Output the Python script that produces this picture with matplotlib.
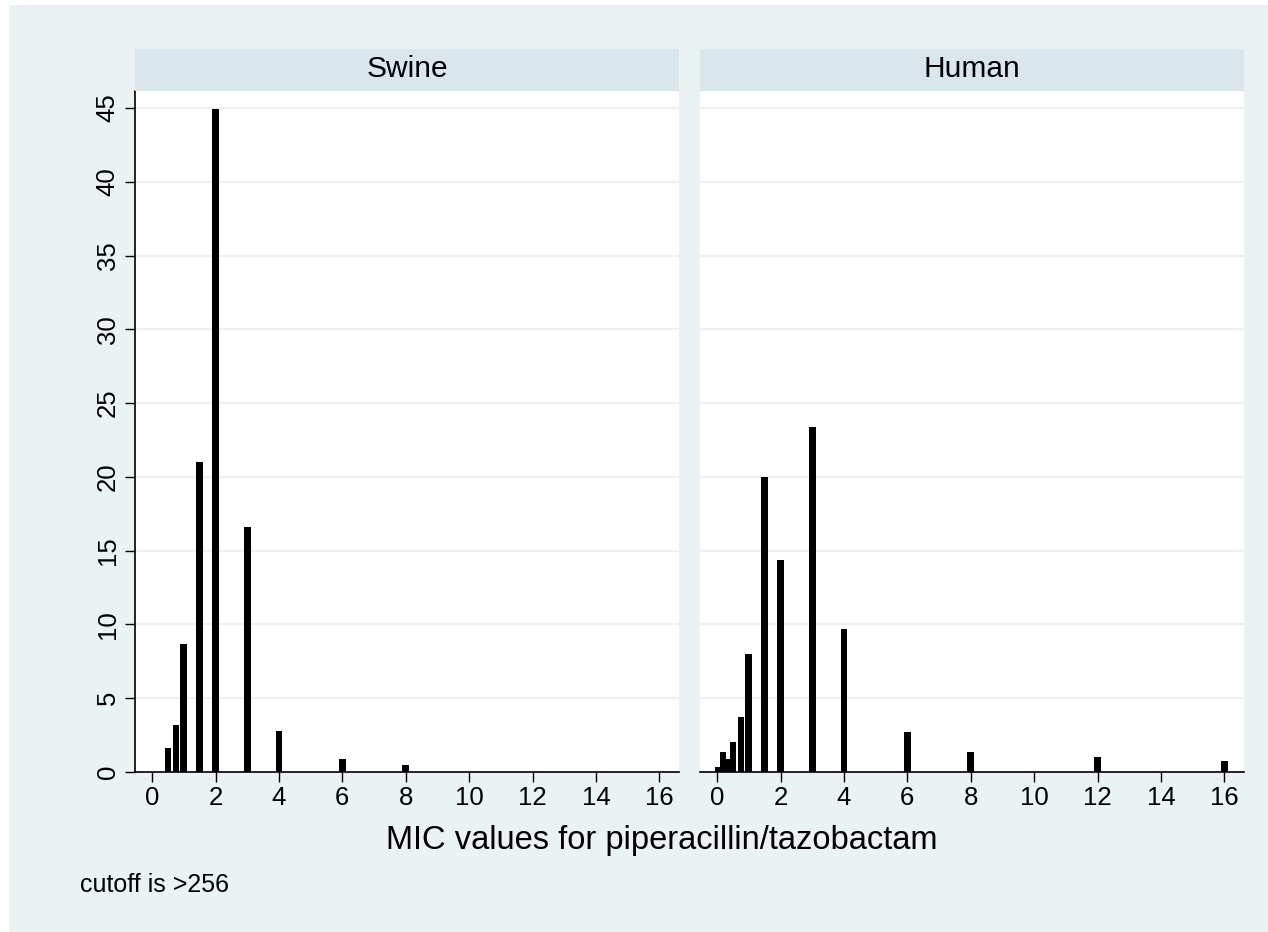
import matplotlib.pyplot as plt
from matplotlib.patches import Rectangle

plt.rcParams['font.family'] = ['Liberation Sans', 'DejaVu Sans']

# MIC values (x) and percent of isolates (y) for each host
swine_mic = [0.5, 0.75, 1, 1.5, 2, 3, 4, 6, 8]
swine_pct = [1.6, 3.2, 8.7, 21.0, 44.9, 16.6, 2.8, 0.9, 0.45]

human_mic = [0.05, 0.19, 0.32, 0.5, 0.75, 1, 1.5, 2, 3, 4, 6, 8, 12, 16]
human_pct = [0.35, 1.35, 0.9, 2.0, 3.7, 8.0, 20.0, 14.35, 23.4, 9.7, 2.7, 1.35, 1.0, 0.75]

panels = ['Swine', 'Human']
xticks = [0, 2, 4, 6, 8, 10, 12, 14, 16]
yticks = [0, 5, 10, 15, 20, 25, 30, 35, 40, 45]

bg = '#EAF2F3'
strip = '#D9E6EB'

fig = plt.figure(figsize=(12.68, 9.32), dpi=100, facecolor='white')
# graph region (leaves a thin white margin on the left and top)
fig.patches.append(Rectangle((9 / 1268, 0), 1, 1 - 5 / 932, transform=fig.transFigure,
                             facecolor=bg, edgecolor='none', zorder=-10))

lefts = [135 / 1268, 700 / 1268]
w = 544 / 1268
bottom = 1 - 772 / 932
h = (772 - 91) / 932
data = [(swine_mic, swine_pct), (human_mic, human_pct)]

for i, (name, (mic, pct)) in enumerate(zip(panels, data)):
    ax = fig.add_axes([lefts[i], bottom, w, h])
    ax.set_facecolor('white')
    ax.bar(mic, pct, width=0.21, color='black', zorder=3)
    ax.set_xlim(-0.54, 16.62)
    ax.set_ylim(0, 46.15)
    ax.set_yticks(yticks)
    ax.set_xticks(xticks)
    for y in yticks[1:]:
        ax.axhline(y, color=bg, lw=1.6, zorder=1)
    for s in ['top', 'right']:
        ax.spines[s].set_visible(False)
    ax.spines['bottom'].set_linewidth(1.2)
    ax.spines['left'].set_linewidth(1.2)
    ax.tick_params(axis='x', length=7, width=1, labelsize=18.5, pad=3)
    if i == 0:
        ax.tick_params(axis='y', length=7, width=1, labelsize=18.5, pad=4)
        for lab in ax.get_yticklabels():
            lab.set_rotation(90)
            lab.set_va('center')
    else:
        ax.spines['left'].set_visible(False)
        ax.tick_params(axis='y', left=False, labelleft=False)

    # header strip above each panel
    sax = fig.add_axes([lefts[i], 1 - 91 / 932, w, 42 / 932])
    sax.set_facecolor(strip)
    sax.set_xticks([])
    sax.set_yticks([])
    for s in sax.spines.values():
        s.set_visible(False)
    fig.text(lefts[i] + w / 2, 1 - 77 / 932, name, ha='center', va='baseline', fontsize=21.5)

fig.text(662 / 1268, 1 - 840 / 932, 'MIC values for piperacillin/tazobactam',
         ha='center', va='center', fontsize=23.5)
fig.text(80 / 1268, 1 - 885 / 932, 'cutoff is >256', ha='left', va='center', fontsize=18)

plt.savefig('out.png', dpi=100, facecolor=fig.get_facecolor())
